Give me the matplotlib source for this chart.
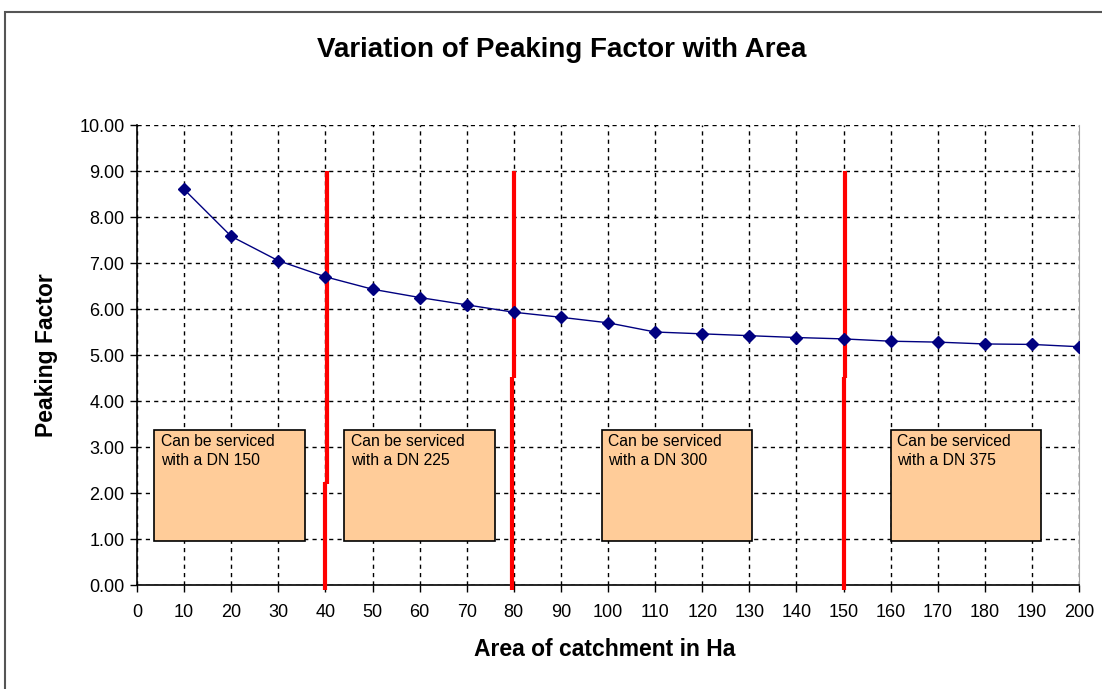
import matplotlib
matplotlib.use("Agg")
import matplotlib.pyplot as plt
from matplotlib.patches import Rectangle

plt.rcParams['font.family'] = ['Liberation Sans', 'DejaVu Sans']

area = [10, 20, 30, 40, 50, 60, 70, 80, 90, 100, 110, 120, 130, 140, 150, 160, 170, 180, 190, 200]
peaking = [8.60, 7.58, 7.05, 6.70, 6.43, 6.25, 6.09, 5.93, 5.82, 5.70, 5.50, 5.46, 5.42, 5.38, 5.35, 5.30, 5.28, 5.24, 5.23, 5.18]

# hand-drawn limit lines: upper segment x, lower segment x, height of the jog
limit_upper_x = [40.25, 80.05, 150.4]
limit_lower_x = [39.85, 79.7, 150.0]
limit_break = [2.2, 4.5, 4.5]
limit_top = 9.0
limit_bottom = -0.1

box_labels = ["Can be serviced\nwith a DN 150", "Can be serviced\nwith a DN 225",
              "Can be serviced\nwith a DN 300", "Can be serviced\nwith a DN 375"]
box_x0 = [3.6, 44.0, 98.7, 160.0]
box_x1 = [35.7, 76.0, 130.6, 192.0]
box_y0 = 0.96
box_y1 = 3.37

fig = plt.figure(figsize=(11.02, 6.89), dpi=100)
fig.patches.append(Rectangle((5/1102, -0.01), 1.02, 1 - 12/689 + 0.01, transform=fig.transFigure,
                             fill=False, edgecolor='#555555', linewidth=1.5))
ax = fig.add_axes([137/1102, 1 - 585/689, (1079 - 137)/1102, (585 - 125)/689])

ax.set_xlim(0, 200)
ax.set_ylim(0, 10)
ax.set_xticks(range(0, 201, 10))
ax.set_yticks(range(0, 11))
ax.set_yticklabels([f"{v:.2f}" for v in range(0, 11)])
ax.tick_params(axis='both', labelsize=13, direction='out', length=5, width=1, colors='black')
ax.tick_params(axis='x', pad=9)
ax.tick_params(axis='y', pad=4)
ax.grid(True, color='black', linestyle=(0, (3, 3)), linewidth=1)
ax.set_axisbelow(True)
ax.spines['top'].set_visible(False)
ax.spines['right'].set_color('#a0a0a0')
ax.spines['left'].set_linewidth(1.2)
ax.spines['bottom'].set_linewidth(1.2)

for x0, x1, lab in zip(box_x0, box_x1, box_labels):
    ax.add_patch(Rectangle((x0, box_y0), x1 - x0, box_y1 - box_y0, facecolor='#ffcc99',
                           edgecolor='black', linewidth=1.2, zorder=3))
    ax.text(x0 + 1.4, box_y1 - 0.09, lab, fontsize=11.3, va='top', ha='left',
            linespacing=1.3, zorder=4)

for xu, xl, yb in zip(limit_upper_x, limit_lower_x, limit_break):
    ax.plot([xu, xu], [yb, limit_top], color='red', linewidth=3, clip_on=False, zorder=5,
            solid_capstyle='butt')
    ax.plot([xl, xl], [limit_bottom, yb + 0.03], color='red', linewidth=3, clip_on=False, zorder=5,
            solid_capstyle='butt')

ax.plot(area, peaking, color='#000080', linewidth=1, marker='D', markersize=6.5,
        markerfacecolor='#000080', markeredgecolor='#000080', zorder=6)

ax.set_xlabel("Area of catchment in Ha", fontsize=16.5, fontweight='bold')
ax.xaxis.set_label_coords((605 - 137) / (1079 - 137), -(650 - 585) / (585 - 125))
ax.set_ylabel("Peaking Factor", fontsize=16.5, fontweight='bold')
ax.yaxis.set_label_coords(-(137 - 47) / (1079 - 137), 0.5)
ax.xaxis.label.set_va('center')
ax.yaxis.label.set_va('center')
fig.text(562 / 1102, 1 - 50/689, "Variation of Peaking Factor with Area",
         ha='center', va='center', fontsize=20, fontweight='bold')

fig.savefig("out.png", dpi=100)
